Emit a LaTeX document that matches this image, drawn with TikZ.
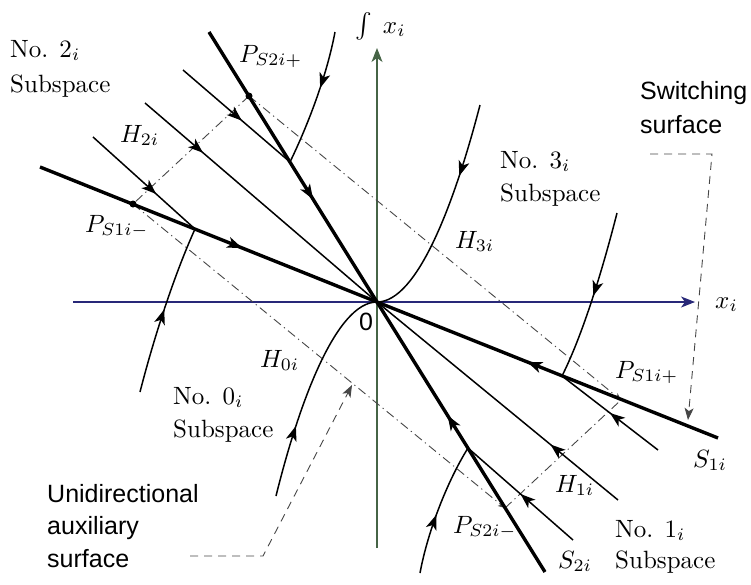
\documentclass[tikz,border=0pt]{standalone}
\usepackage{fontspec}
\newfontfamily\sansf{Liberation Sans}
\usetikzlibrary{arrows.meta,decorations.markings}
\definecolor{haxis}{RGB}{40,40,120}
\definecolor{vaxis}{RGB}{70,100,70}
\definecolor{dashc}{RGB}{70,70,70}
\newcommand{\sctxt}[1]{\scalebox{2.5}{#1}}
\tikzset{
  bigtip/.tip={Stealth[length=15pt,width=11pt,inset=4pt]},
  smalltip/.tip={Stealth[length=7pt,width=6pt,inset=2pt]},
  midarrow/.style={postaction={decorate},decoration={markings,mark=at position #1 with {\arrow{bigtip}}}},
  thickline/.style={line width=3.4pt},
  thinline/.style={line width=1.5pt},
  axisline/.style={line width=1.1pt,-{Stealth[length=14pt,width=11pt,inset=4pt]}},
  dashdotline/.style={line width=0.9pt,dashc,dash pattern=on 9pt off 4pt on 1.2pt off 4pt},
  annot/.style={line width=0.9pt,dashc,dash pattern=on 8pt off 6pt},
  lbl/.style={inner sep=0pt,anchor=base west,font=\fontsize{10}{12}\selectfont},
  slbl/.style={inner sep=0pt,anchor=base west,font=\sansf\fontsize{25}{30}\selectfont},
  pdot/.style={circle,fill=black,inner sep=0pt,minimum size=7pt}
}
\begin{document}
\begin{tikzpicture}[x=1pt,y=-1pt]
\useasboundingbox (0,0) rectangle (751,584);
% key points
\coordinate (O) at (377,302);
\coordinate (S1a) at (40,167);
\coordinate (S1b) at (718,438);
\coordinate (S2a) at (209,32);
\coordinate (S2b) at (545,572);
\coordinate (PS2p) at (249,96);
\coordinate (PS2m) at (505,508);
\coordinate (PS1m) at (133,204);
\coordinate (PS1p) at (621,400);
\coordinate (J2) at (290,162);
\coordinate (J1) at (195,229);
\coordinate (J1b) at (562,376);
\coordinate (J2b) at (468,448);
% axes
\coordinate (hxa) at (73,302);
\coordinate (hxb) at (695,302);
\coordinate (vya) at (377,548);
\coordinate (vyb) at (377,48);
\draw[axisline,haxis] (hxa) -- (hxb);
\draw[axisline,vaxis] (vya) -- (vyb);
% dash-dot parallelogram
\draw[dashdotline,-smalltip] (PS1m) -- (PS2m);
\draw[dashdotline,-smalltip] (PS2p) -- (PS1p);
\draw[dashdotline] (PS2p) -- (PS1m);
\draw[dashdotline] (PS2m) -- (PS1p);
% switching lines
\draw[thickline,midarrow=0.6] (S1a) -- (O);
\draw[thickline,midarrow=0.56] (S1b) -- (O);
\draw[thickline,midarrow=0.62] (S2a) -- (O);
\draw[thickline,midarrow=0.58] (S2b) -- (O);
% upper-left trajectories
\coordinate (T1s) at (183,70);
\coordinate (T2s) at (145,103);
\coordinate (T3s) at (93,137);
\draw[thinline,midarrow=0.55] (T1s) -- (J2);
\draw[thinline,midarrow=0.25] (T2s) -- (O);
\draw[thinline,midarrow=0.62] (T3s) -- (J1);
% lower-right trajectories
\coordinate (T1e) at (573,540);
\coordinate (T2e) at (618,500);
\coordinate (T3e) at (658,450);
\draw[thinline,midarrow=0.5] (T1e) -- (J2b);
\draw[thinline,midarrow=0.28] (T2e) -- (O);
\draw[thinline,midarrow=0.5] (T3e) -- (J1b);
% curved trajectories
\coordinate (C2s) at (335,32);
\coordinate (C1s) at (140,392);
\coordinate (C1bs) at (617,213);
\coordinate (C2bs) at (420,573);
\coordinate (H3s) at (480,105);
\coordinate (H0s) at (276,496);
\draw[thinline,midarrow=0.42] (C2s) .. controls (327,75) and (308,125) .. (J2);
\draw[thinline,midarrow=0.5] (C1s) .. controls (152,345) and (172,280) .. (J1);
\draw[thinline,midarrow=0.5] (C1bs) .. controls (605,260) and (585,330) .. (J1b);
\draw[thinline,midarrow=0.45] (C2bs) .. controls (428,530) and (448,480) .. (J2b);
\draw[thinline,midarrow=0.32] (H3s) .. controls (454,205) and (417,302) .. (O);
\draw[thinline,midarrow=0.32] (H0s) .. controls (300,399) and (337,302) .. (O);
% points
\node[pdot] (dS2p) at (PS2p) {};
\node[pdot] (dS1m) at (PS1m) {};
% annotation arrows
\coordinate (sw1) at (650,154);
\coordinate (sw2) at (712,154);
\coordinate (sw3) at (688,420);
\draw[annot,-{Stealth[length=12pt,width=9pt,inset=3pt]}] (sw1) -- (sw2) -- (sw3);
\coordinate (ua1) at (190,556);
\coordinate (ua2) at (263,556);
\coordinate (ua3) at (352,385);
\draw[annot,-{Stealth[length=12pt,width=9pt,inset=3pt]}] (ua1) -- (ua2) -- (ua3);
% labels
\node[lbl] (n2a) at (10,57) {\sctxt{No. $2_i$}};
\node[lbl] (n2b) at (10,92) {\sctxt{Subspace}};
\node[lbl] (n3a) at (500,168) {\sctxt{No. $3_i$}};
\node[lbl] (n3b) at (500,201) {\sctxt{Subspace}};
\node[lbl] (n0a) at (173,404) {\sctxt{No. $0_i$}};
\node[lbl] (n0b) at (173,437) {\sctxt{Subspace}};
\node[lbl] (n1a) at (615,537) {\sctxt{No. $1_i$}};
\node[lbl] (n1b) at (615,568) {\sctxt{Subspace}};
\node[lbl] (lPS2p) at (239,62) {\sctxt{$P_{S2i+}$}};
\node[lbl] (lH2) at (120,142) {\sctxt{$H_{2i}$}};
\node[lbl] (lPS1m) at (85,232) {\sctxt{$P_{S1i-}$}};
\node[lbl] (lH3) at (455,248) {\sctxt{$H_{3i}$}};
\node[lbl] (lH0) at (260,367) {\sctxt{$H_{0i}$}};
\node[lbl] (lPS1p) at (615,378) {\sctxt{$P_{S1i+}$}};
\node[lbl] (lS1) at (693,467) {\sctxt{$S_{1i}$}};
\node[lbl] (lH1) at (555,492) {\sctxt{$H_{1i}$}};
\node[lbl] (lPS2m) at (453,533) {\sctxt{$P_{S2i-}$}};
\node[lbl] (lS2) at (558,568) {\sctxt{$S_{2i}$}};
\node[lbl] (lx) at (715,308) {\sctxt{$x_i$}};
\node[lbl] (ly) at (355,33) {\sctxt{$\int\; x_i$}};
\node[slbl] (l0) at (359,330) {0};
\node[slbl] (lsw1) at (640,99) {Switching};
\node[slbl] (lsw2) at (640,133) {surface};
\node[slbl] (lua1) at (47,502) {Unidirectional};
\node[slbl] (lua2) at (47,534) {auxiliary};
\node[slbl] (lua3) at (47,567) {surface};
\end{tikzpicture}
\end{document}
